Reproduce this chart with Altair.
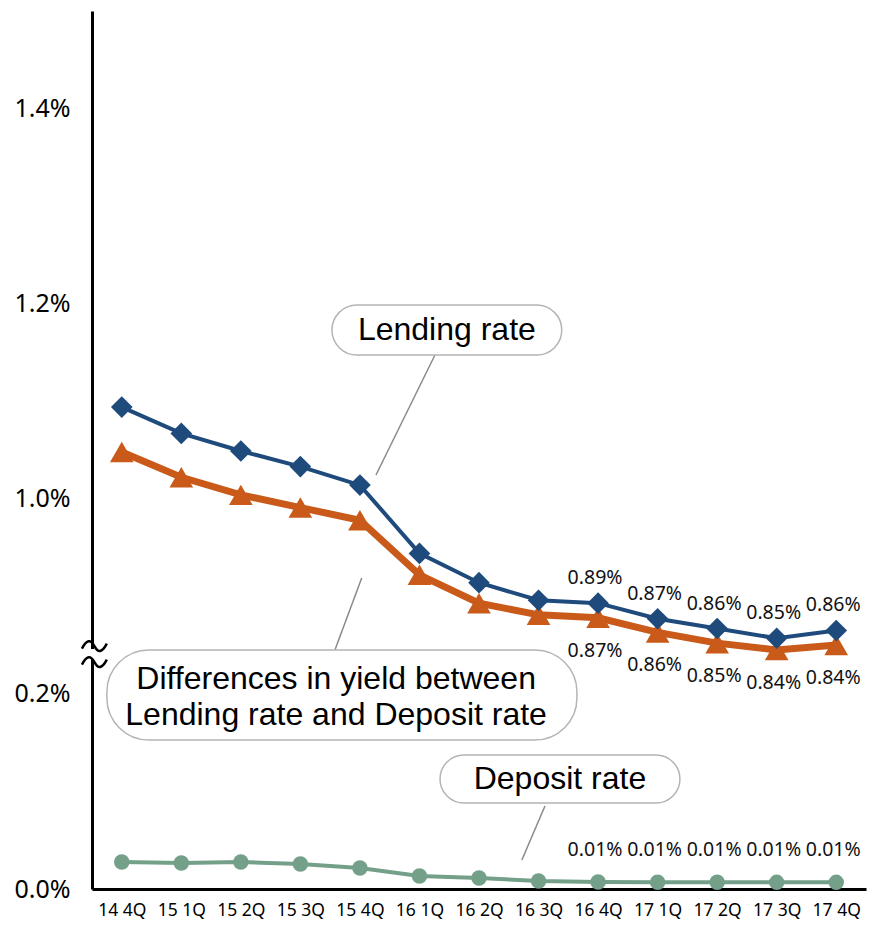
import altair as alt
import pandas as pd

# ---------------- data ----------------
categories = ["14 4Q", "15 1Q", "15 2Q", "15 3Q", "15 4Q", "16 1Q", "16 2Q",
              "16 3Q", "16 4Q", "17 1Q", "17 2Q", "17 3Q", "17 4Q"]
lending_rate = [1.094, 1.067, 1.049, 1.033, 1.014, 0.944, 0.914,
                0.896, 0.893, 0.877, 0.867, 0.857, 0.865]
yield_spread = [1.048, 1.022, 1.004, 0.991, 0.978, 0.922, 0.893,
                0.881, 0.878, 0.863, 0.852, 0.845, 0.850]
deposit_rate = [0.0277, 0.0267, 0.0277, 0.0256, 0.0215, 0.0133, 0.0113,
                0.0082, 0.0072, 0.0070, 0.0069, 0.0068, 0.0068]
lending_labels = ["", "", "", "", "", "", "", "", "0.89%", "0.87%", "0.86%", "0.85%", "0.86%"]
spread_labels = ["", "", "", "", "", "", "", "", "0.87%", "0.86%", "0.85%", "0.84%", "0.84%"]
deposit_labels = ["", "", "", "", "", "", "", "", "0.01%", "0.01%", "0.01%", "0.01%", "0.01%"]
y_tick_values = [0.0, 0.2, 0.4, 0.6, 0.8]
y_tick_labels = ["0.0%", "0.2%", "1.0%", "1.2%", "1.4%"]
break_offset = 0.6  # the axis skips 0.2%..1.0% : upper values are drawn 0.6 points lower

# annotation layout (in data units: x = category index, y = axis position)
callouts = pd.DataFrame({
    "text": ["Lending rate",
             "Differences in yield between\nLending rate and Deposit rate",
             "Deposit rate"],
    "x1": [3.53, -0.25, 5.345], "x2": [7.39, 7.645, 9.375],
    "y1": [0.5474, 0.1527, 0.0881], "y2": [0.5986, 0.245, 0.1373],
    "tx": [5.46, 3.6, 7.36], "ty": [0.573, 0.2155, 0.1128],
    "lx1": [5.26, 3.58, 7.108], "lx2": [4.27, 4.03, 6.72],
    "ly1": [0.5474, 0.245, 0.0851], "ly2": [0.4244, 0.3188, 0.0297],
})
axis_break = pd.DataFrame({"x": [-0.46, -0.46], "y": [0.249, 0.2325]})
axis_gap = pd.DataFrame({"x1": [-0.56], "x2": [-0.42], "y1": [0.2355], "y2": [0.246]})

# ---------------- tables ----------------
def series_frame(values, labels, name, offset):
    return pd.DataFrame({
        "idx": list(range(len(categories))),
        "category": categories,
        "value": values,
        "pos": [v - offset for v in values],
        "label": labels,
        "series": name,
    })

lend_df = series_frame(lending_rate, lending_labels, "Lending rate", break_offset)
spread_df = series_frame(yield_spread, spread_labels, "Differences in yield", break_offset)
dep_df = series_frame(deposit_rate, deposit_labels, "Deposit rate", 0.0)

# ---------------- scales / axes ----------------
x_label_expr = "[" + ",".join("'%s'" % c for c in categories) + "][round(datum.value)]"
y_label_expr = "[" + ",".join("'%s'" % t for t in y_tick_labels) + "][round(datum.value*5)]"
x_scale = alt.Scale(domain=[-0.5, len(categories) - 0.5], nice=False, zero=False)
y_scale = alt.Scale(domain=[0, 0.9], nice=False, zero=False)
x_axis = alt.Axis(values=list(range(len(categories))), labelExpr=x_label_expr, title=None)
y_axis = alt.Axis(values=y_tick_values, labelExpr=y_label_expr, title=None)


def XQ(field):
    return alt.X(field, type="quantitative", scale=x_scale, axis=x_axis, title=None)


def YQ(field):
    return alt.Y(field, type="quantitative", scale=y_scale, axis=y_axis, title=None)


BLUE = "#1f4b7c"
ORANGE = "#c95a19"
GREEN = "#74a08a"
LABEL_FONT = "Noto Sans"


def series_layers(df, color, line_w, shape, size, label_dy):
    base = alt.Chart(df).encode(x=XQ("idx"), y=YQ("pos"))
    line = base.mark_line(color=color, strokeWidth=line_w)
    pts = base.mark_point(shape=shape, size=size, filled=True, color=color, opacity=1)
    labels = base.mark_text(font=LABEL_FONT, fontSize=19.5, color="#111111",
                            dy=label_dy, dx=-3, align="center", baseline="middle").encode(text="label:N")
    return [line, pts, labels]


green_layers = series_layers(dep_df, GREEN, 4, "circle", 240, -32)
orange_layers = series_layers(spread_df, ORANGE, 7, "triangle-up", 560, 33)
blue_layers = series_layers(lend_df, BLUE, 4, "diamond", 470, -25)

# callouts
leaders = alt.Chart(callouts).mark_rule(color="#8a8a8a", strokeWidth=1.5).encode(
    x=XQ("lx1"), x2="lx2:Q", y=YQ("ly1"), y2="ly2:Q")


def box(i, radius):
    return alt.Chart(callouts.iloc[[i]]).mark_rect(
        fill="white", stroke="#b4b4b4", strokeWidth=1.5, cornerRadius=radius).encode(
        x=XQ("x1"), x2="x2:Q", y=YQ("y1"), y2="y2:Q")


boxes = [box(0, 25), box(1, 42), box(2, 24)]
callout_text = alt.Chart(callouts).mark_text(
    font="Liberation Sans", fontSize=32, color="black", align="center",
    baseline="middle", lineBreak="\n", lineHeight=36).encode(
    x=XQ("tx"), y=YQ("ty"), text="text:N")

# axis break symbol
gap = alt.Chart(axis_gap).mark_rect(fill="white").encode(
    x=XQ("x1"), x2="x2:Q", y=YQ("y1"), y2="y2:Q")
tilde_path = "M -1 0.2 C -0.6 -0.55 -0.3 -0.55 0 0 C 0.3 0.55 0.6 0.55 1 -0.2"
tildes = alt.Chart(axis_break).mark_point(
    shape=tilde_path, size=620, filled=False, stroke="black", strokeWidth=2.5, opacity=1).encode(
    x=XQ("x"), y=YQ("y"))

chart = alt.layer(
    *green_layers, *orange_layers, *blue_layers,
    leaders, *boxes, callout_text, gap, tildes,
).properties(
    width=774, height=878,
    autosize=alt.AutoSizeParams(type="none"),
    padding={"left": 92, "top": 11, "right": 9, "bottom": 39},
).configure_view(stroke=None).configure_axis(
    domainColor="black", domainWidth=3, ticks=False, tickSize=0, grid=False,
    labelFont=LABEL_FONT, labelColor="black",
).configure_axisX(labelFontSize=17.5, labelPadding=12).configure_axisY(
    labelFontSize=25, labelPadding=22)

chart.save("out.html", embed_options={"renderer": "svg", "actions": False})
